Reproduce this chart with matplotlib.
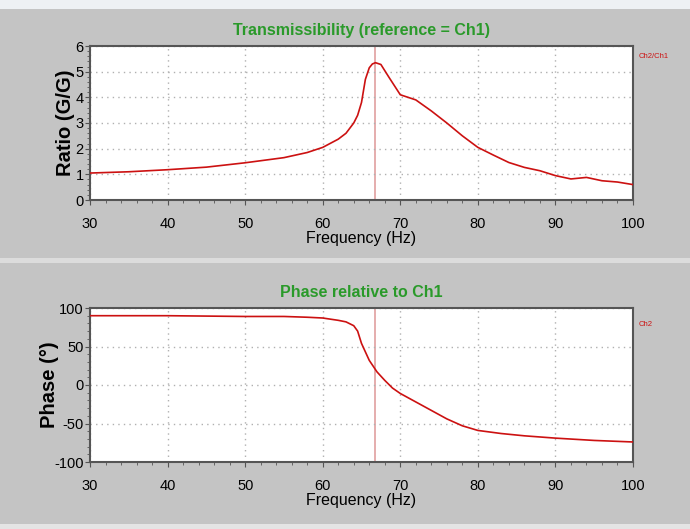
import matplotlib
matplotlib.use("Agg")
import matplotlib.pyplot as plt
from matplotlib import font_manager
from matplotlib.patches import Rectangle
from matplotlib.ticker import MultipleLocator

# transmissibility Ch2/Ch1
freq_t = [30, 35, 40, 45, 50, 55, 58, 60, 62, 63, 64, 64.5, 65, 65.5, 66, 66.4, 66.8,
          67.5, 68.5, 70, 71, 72, 74, 76, 78, 80, 82, 84, 86, 88, 90, 92, 94, 96, 98, 100]
ratio = [1.05, 1.1, 1.18, 1.28, 1.45, 1.65, 1.85, 2.05, 2.37, 2.6, 3.0, 3.3, 3.8, 4.7, 5.15,
         5.3, 5.35, 5.28, 4.8, 4.1, 4.0, 3.9, 3.47, 3.0, 2.5, 2.05, 1.75, 1.46, 1.27, 1.14,
         0.95, 0.82, 0.88, 0.75, 0.7, 0.6]

# phase Ch2 relative to Ch1
freq_p = [30, 40, 50, 55, 58, 60, 62, 63, 64, 64.5, 65, 65.5, 66, 67, 68, 69, 70, 72, 74,
          76, 78, 80, 83, 86, 90, 95, 100]
phase = [90, 90, 89, 89, 88, 87, 84, 82, 77, 70, 54, 43, 32, 17, 6, -4, -11, -22, -33,
         -44, -53, -59, -63, -66, -69, -72, -74]

peak_freq = 66.8
xticks = [30, 40, 50, 60, 70, 80, 90, 100]

plt.rcParams["axes.unicode_minus"] = False

# narrow font if the system has one, plain Arial-like otherwise
installed = {f.name for f in font_manager.fontManager.ttflist}
if "Liberation Sans Narrow" in installed:
    narrow = ["Liberation Sans Narrow", "DejaVu Sans"]
    tsize, lsize = 14, 12
else:
    narrow = ["Liberation Sans", "DejaVu Sans"]
    tsize, lsize = 11.5, 10.5
red = "#cc1111"
green = "#2a9a2a"

fig = plt.figure(figsize=(6.9, 5.29), dpi=100)
fig.patch.set_facecolor("#c4c4c4")
# top light strip and panel separator
fig.patches.append(Rectangle((0, 1 - 9 / 529), 1, 9 / 529, transform=fig.transFigure,
                             facecolor="#eef1f4", edgecolor="none"))
fig.patches.append(Rectangle((0, 1 - 263 / 529), 1, 5 / 529, transform=fig.transFigure,
                             facecolor="#dcdcdc", edgecolor="none"))
fig.patches.append(Rectangle((0, 0), 1, 5 / 529, transform=fig.transFigure,
                             facecolor="#e4e4e4", edgecolor="none"))


def style_axes(ax, ylim, yticks):
    ax.set_xlim(30, 100)
    ax.set_ylim(*ylim)
    ax.set_xticks(xticks)
    ax.set_yticks(yticks)
    ax.xaxis.set_minor_locator(MultipleLocator(2))
    ax.grid(True, which="major", color="#b0b0b0", linestyle=(0, (1, 3)), linewidth=1)
    ax.tick_params(which="both", direction="out", length=2.5, color="#555555")
    ax.tick_params(which="major", length=3.5, labelsize=lsize)
    ax.tick_params(axis="x", which="major", pad=9)
    ax.tick_params(axis="y", which="major", pad=1)
    for lab in ax.get_xticklabels() + ax.get_yticklabels():
        lab.set_family(narrow)
    for s in ax.spines.values():
        s.set_color("#555555")
        s.set_linewidth(1.5)
    ax.set_xlabel("Frequency (Hz)", family=narrow, fontsize=lsize + 1, labelpad=0)
    ax.axvline(peak_freq, color="#e0a0a0", linewidth=1.2, zorder=1)


ax1 = fig.add_axes([90 / 690, 1 - 200 / 529, 543 / 690, 154 / 529])
ax1.plot(freq_t, ratio, color=red, linewidth=1.2, zorder=3)
style_axes(ax1, (0, 6), range(0, 7))
ax1.yaxis.set_minor_locator(MultipleLocator(0.2))
ax1.set_ylabel("Ratio (G/G)", family="Liberation Sans", fontsize=14.5,
               fontweight="bold")
ax1.yaxis.set_label_coords(-0.028, 0.5)
ax1.set_title("Transmissibility (reference = Ch1)", family=narrow, fontsize=tsize,
              fontweight="bold", color=green, pad=8)
ax1.text(1.01, 0.92, "Ch2/Ch1", transform=ax1.transAxes, fontsize=5.5, color=red,
         family=narrow)

ax2 = fig.add_axes([90 / 690, 1 - 462 / 529, 543 / 690, 154 / 529])
ax2.plot(freq_p, phase, color=red, linewidth=1.2, zorder=3)
style_axes(ax2, (-100, 100), [-100, -50, 0, 50, 100])
ax2.yaxis.set_minor_locator(MultipleLocator(10))
ax2.set_ylabel("Phase (°)", family="Liberation Sans", fontsize=14.5,
               fontweight="bold")
ax2.yaxis.set_label_coords(-0.058, 0.5)
ax2.set_title("Phase relative to Ch1", family=narrow, fontsize=tsize,
              fontweight="bold", color=green, pad=8)
ax2.text(1.01, 0.88, "Ch2", transform=ax2.transAxes, fontsize=5.5, color=red,
         family=narrow)

fig.savefig("out.png", dpi=100, facecolor=fig.get_facecolor())
